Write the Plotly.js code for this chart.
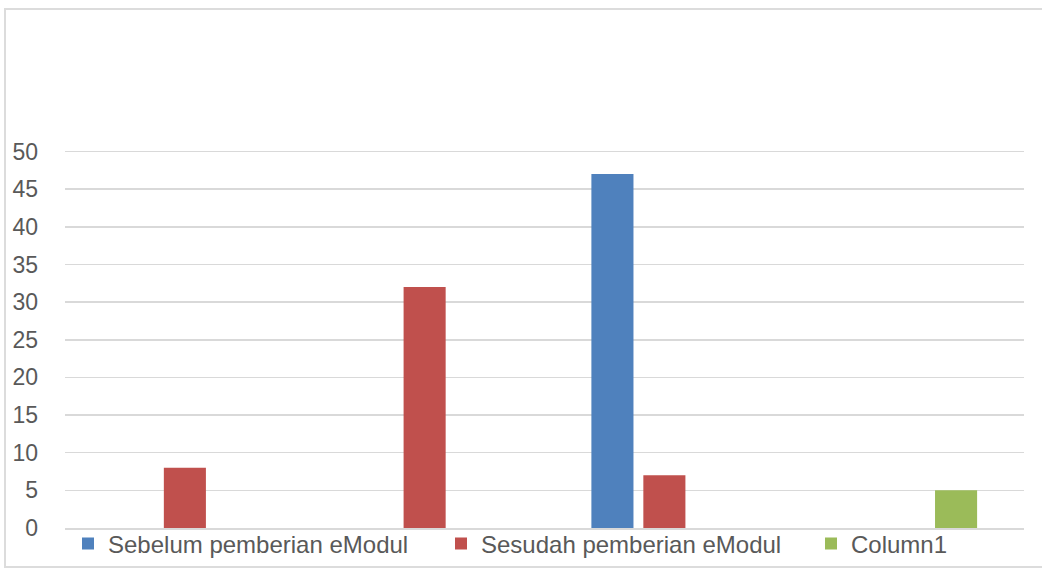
<!DOCTYPE html>
<html>
<head>
<meta charset="utf-8">
<script src="https://cdn.plot.ly/plotly-3.0.1.min.js"></script>
<style>
  html, body { margin: 0; padding: 0; background: #ffffff; overflow: hidden; }
  #frame { position: absolute; left: 4px; top: 8px; width: 1100px; height: 560px; border: 2px solid #dcdcdc; box-sizing: border-box; }
  #chart { position: absolute; left: 0; top: 0; width: 1042px; height: 570px; }
</style>
</head>
<body>
<div id="frame"></div>
<div id="chart"></div>
<script>
// Categories (labels not shown in the reference)
const categories = ['1', '2', '3', '4'];
// Series values (null = no bar)
const sebelum = [null, null, 47, null];
const sesudah = [8, 32, 7, null];
const column1 = [null, null, null, 5];
// Series names
const seriesNames = ['Sebelum pemberian eModul', 'Sesudah pemberian eModul', 'Column1'];
// Y tick values
const yTicks = [0, 5, 10, 15, 20, 25, 30, 35, 40, 45, 50];

const colors = ['#4f81bd', '#c0504d', '#9bbb59'];
const seriesData = [sebelum, sesudah, column1];
const legendIds = ['legend', 'legend2', 'legend3'];
const legendX = [68, 441, 811];

const traces = seriesData.map((vals, i) => ({
  type: 'bar',
  name: seriesNames[i],
  x: categories,
  y: vals,
  legend: legendIds[i],
  marker: { color: colors[i], line: { width: 0 } },
  hoverinfo: 'none'
}));

const W = 1042, H = 570;
const legendFont = { size: 24, color: '#595959', family: 'Liberation Sans, Arial, sans-serif' };
function mkLegend(px) {
  return {
    orientation: 'h',
    xref: 'container',
    yref: 'container',
    x: px / W,
    xanchor: 'left',
    y: (H - 544) / H,
    yanchor: 'middle',
    itemwidth: 30,
    font: legendFont,
    bgcolor: 'rgba(0,0,0,0)',
    borderwidth: 0
  };
}

const layout = {
  width: W,
  height: H,
  margin: { l: 65, r: 18, t: 150, b: 42, pad: 0, autoexpand: false },
  paper_bgcolor: 'rgba(0,0,0,0)',
  plot_bgcolor: 'rgba(0,0,0,0)',
  barmode: 'group',
  bargap: 0.35,
  bargroupgap: 0.19,
  showlegend: true,
  font: { family: 'Liberation Sans, Arial, sans-serif', color: '#595959' },
  xaxis: {
    type: 'category',
    showticklabels: false,
    showgrid: false,
    zeroline: false,
    showline: true,
    linecolor: '#d9d9d9',
    linewidth: 1.5,
    ticks: '',
    fixedrange: true
  },
  yaxis: {
    range: [0, 50.2],
    tickvals: yTicks,
    ticktext: yTicks.map(String),
    showgrid: true,
    gridcolor: '#d9d9d9',
    gridwidth: 1.5,
    zeroline: false,
    showline: false,
    ticks: '',
    ticklabelstandoff: 26,
    tickfont: { size: 23, color: '#595959', family: 'Liberation Sans, Arial, sans-serif' },
    fixedrange: true
  },
  legend: mkLegend(legendX[0]),
  legend2: mkLegend(legendX[1]),
  legend3: mkLegend(legendX[2])
};

Plotly.newPlot('chart', traces, layout, { displayModeBar: false, staticPlot: true });
</script>
</body>
</html>
